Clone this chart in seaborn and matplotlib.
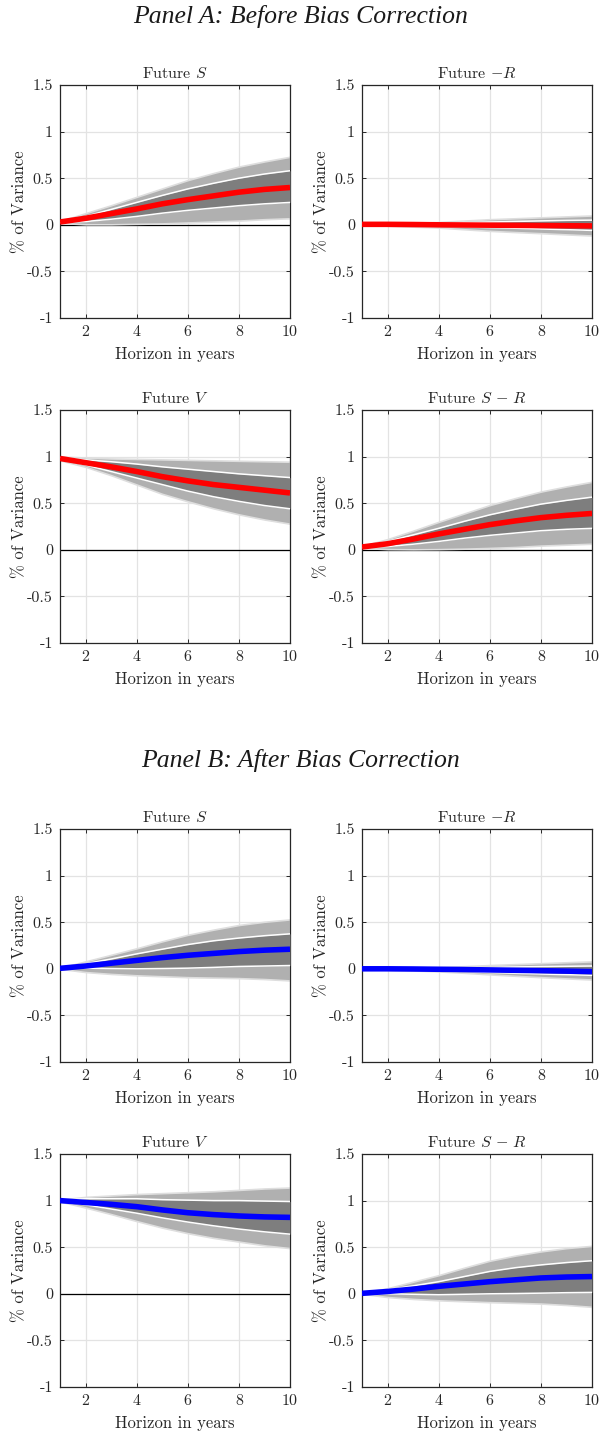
import numpy as np
import pandas as pd
import matplotlib
matplotlib.use("Agg")
import matplotlib.pyplot as plt
import seaborn as sns

sns.set_style("ticks")
plt.rcParams["font.family"] = "serif"
plt.rcParams["font.serif"] = ["cmr10", "DejaVu Serif"]
plt.rcParams["mathtext.fontset"] = "cm"
plt.rcParams["axes.unicode_minus"] = False
plt.rcParams["axes.formatter.use_mathtext"] = True

horizon = [1, 2, 3, 4, 5, 6, 7, 8, 9, 10]
x_ticks = [2, 4, 6, 8, 10]
y_ticks = [-1, -0.5, 0, 0.5, 1, 1.5]
y_ticklabels = ["-1", "-0.5", "0", "0.5", "1", "1.5"]
panel_titles = ["Panel A: Before Bias Correction", "Panel B: After Bias Correction"]
sub_titles = ["Future $S$", "Future $-R$", "Future $V$", "Future $S$ $-$ $R$"]
line_colors = ["#ff0000", "#0000ff"]

# Panel A: Future S
A_S_med = [0.03, 0.07, 0.12, 0.17, 0.225, 0.27, 0.31, 0.35, 0.38, 0.40]
A_S_hi90 = [0.04, 0.125, 0.21, 0.30, 0.39, 0.48, 0.555, 0.625, 0.68, 0.73]
A_S_hi68 = [0.035, 0.09, 0.165, 0.24, 0.315, 0.385, 0.445, 0.50, 0.545, 0.58]
A_S_lo68 = [0.025, 0.035, 0.06, 0.09, 0.125, 0.155, 0.18, 0.205, 0.225, 0.24]
A_S_lo90 = [0.02, 0.005, 0.005, 0.01, 0.015, 0.025, 0.035, 0.045, 0.06, 0.07]
# Panel A: Future -R
A_R_med = [0.005, 0.005, 0.003, 0.0, -0.002, -0.004, -0.006, -0.008, -0.01, -0.012]
A_R_hi90 = [0.005, 0.01, 0.02, 0.03, 0.045, 0.06, 0.07, 0.08, 0.09, 0.10]
A_R_hi68 = [0.005, 0.007, 0.012, 0.018, 0.024, 0.03, 0.036, 0.042, 0.047, 0.05]
A_R_lo68 = [0.005, 0.0, -0.008, -0.015, -0.022, -0.03, -0.037, -0.045, -0.052, -0.06]
A_R_lo90 = [0.005, -0.01, -0.02, -0.03, -0.048, -0.065, -0.078, -0.09, -0.103, -0.115]
# Panel A: Future V
A_V_med = [0.98, 0.935, 0.89, 0.84, 0.785, 0.74, 0.70, 0.67, 0.64, 0.61]
A_V_hi90 = [1.0, 0.99, 0.98, 0.975, 0.97, 0.965, 0.96, 0.955, 0.95, 0.945]
A_V_hi68 = [0.99, 0.965, 0.945, 0.92, 0.89, 0.865, 0.84, 0.815, 0.795, 0.775]
A_V_lo68 = [0.97, 0.91, 0.84, 0.77, 0.70, 0.63, 0.57, 0.52, 0.475, 0.44]
A_V_lo90 = [0.96, 0.89, 0.80, 0.70, 0.60, 0.52, 0.445, 0.38, 0.325, 0.28]
# Panel A: Future S-R
A_SR_med = [0.03, 0.065, 0.115, 0.17, 0.22, 0.27, 0.31, 0.345, 0.37, 0.39]
A_SR_hi90 = [0.04, 0.115, 0.205, 0.30, 0.39, 0.48, 0.555, 0.625, 0.68, 0.73]
A_SR_hi68 = [0.035, 0.09, 0.16, 0.23, 0.305, 0.375, 0.435, 0.49, 0.53, 0.565]
A_SR_lo68 = [0.025, 0.035, 0.06, 0.09, 0.125, 0.155, 0.18, 0.205, 0.22, 0.23]
A_SR_lo90 = [0.02, 0.007, 0.005, 0.007, 0.012, 0.02, 0.03, 0.045, 0.055, 0.065]

# Panel B: Future S
B_S_med = [0.005, 0.03, 0.06, 0.09, 0.12, 0.145, 0.165, 0.185, 0.20, 0.21]
B_S_hi90 = [0.01, 0.08, 0.15, 0.22, 0.295, 0.365, 0.42, 0.47, 0.505, 0.53]
B_S_hi68 = [0.008, 0.055, 0.105, 0.16, 0.21, 0.26, 0.30, 0.33, 0.355, 0.375]
B_S_lo68 = [0.003, 0.007, 0.003, 0.0, 0.003, 0.007, 0.015, 0.025, 0.03, 0.035]
B_S_lo90 = [0.0, -0.035, -0.055, -0.07, -0.08, -0.09, -0.095, -0.10, -0.11, -0.125]
# Panel B: Future -R
B_R_med = [0.0, 0.0, -0.002, -0.005, -0.008, -0.012, -0.016, -0.02, -0.025, -0.03]
B_R_hi90 = [0.003, 0.008, 0.012, 0.018, 0.028, 0.04, 0.05, 0.06, 0.07, 0.08]
B_R_hi68 = [0.002, 0.004, 0.006, 0.008, 0.012, 0.015, 0.02, 0.024, 0.027, 0.03]
B_R_lo68 = [-0.002, -0.006, -0.012, -0.018, -0.028, -0.04, -0.048, -0.056, -0.063, -0.07]
B_R_lo90 = [-0.003, -0.01, -0.018, -0.028, -0.043, -0.06, -0.075, -0.09, -0.103, -0.115]
# Panel B: Future V
B_V_med = [1.0, 0.98, 0.96, 0.935, 0.90, 0.87, 0.85, 0.835, 0.825, 0.82]
B_V_hi90 = [1.01, 1.04, 1.055, 1.07, 1.08, 1.09, 1.10, 1.115, 1.13, 1.14]
B_V_hi68 = [1.005, 1.02, 1.02, 1.02, 1.01, 1.005, 1.0, 1.0, 0.995, 0.99]
B_V_lo68 = [0.995, 0.955, 0.91, 0.865, 0.815, 0.77, 0.73, 0.695, 0.665, 0.64]
B_V_lo90 = [0.99, 0.925, 0.855, 0.78, 0.71, 0.65, 0.60, 0.56, 0.52, 0.49]
# Panel B: Future S-R
B_SR_med = [0.005, 0.025, 0.05, 0.08, 0.105, 0.13, 0.15, 0.17, 0.18, 0.185]
B_SR_hi90 = [0.01, 0.06, 0.13, 0.20, 0.28, 0.355, 0.41, 0.455, 0.49, 0.515]
B_SR_hi68 = [0.008, 0.045, 0.085, 0.13, 0.185, 0.24, 0.28, 0.31, 0.335, 0.355]
B_SR_lo68 = [0.002, 0.0, -0.005, -0.01, -0.005, 0.0, 0.003, 0.007, 0.012, 0.015]
B_SR_lo90 = [0.0, -0.035, -0.055, -0.07, -0.08, -0.09, -0.097, -0.105, -0.12, -0.14]

panels = [
    [(A_S_med, A_S_lo90, A_S_lo68, A_S_hi68, A_S_hi90),
     (A_R_med, A_R_lo90, A_R_lo68, A_R_hi68, A_R_hi90),
     (A_V_med, A_V_lo90, A_V_lo68, A_V_hi68, A_V_hi90),
     (A_SR_med, A_SR_lo90, A_SR_lo68, A_SR_hi68, A_SR_hi90)],
    [(B_S_med, B_S_lo90, B_S_lo68, B_S_hi68, B_S_hi90),
     (B_R_med, B_R_lo90, B_R_lo68, B_R_hi68, B_R_hi90),
     (B_V_med, B_V_lo90, B_V_lo68, B_V_hi68, B_V_hi90),
     (B_SR_med, B_SR_lo90, B_SR_lo68, B_SR_hi68, B_SR_hi90)],
]

W, H = 601, 1435
fig = plt.figure(figsize=(W / 100, H / 100), dpi=100)

col_left = [60, 362]
ax_w = 230
row_tops = [[85, 410], [829, 1154]]
ax_h = 233
panel_title_y = [16, 760]

for p in range(2):
    fig.text(0.5, 1 - panel_title_y[p] / H, panel_titles[p], ha="center", va="center",
             fontsize=18.5, family=["Liberation Serif", "DejaVu Serif"], style="italic",
             color="#1a1a1a")
    for k in range(4):
        r, c = divmod(k, 2)
        top = row_tops[p][r]
        left = col_left[c]
        ax = fig.add_axes([left / W, 1 - (top + ax_h) / H, ax_w / W, ax_h / H])
        med, lo90, lo68, hi68, hi90 = panels[p][k]
        df = pd.DataFrame({"h": horizon, "med": med, "lo90": lo90, "lo68": lo68,
                           "hi68": hi68, "hi90": hi90})
        ax.grid(True, color="#e3e3e3", lw=0.9)
        ax.set_axisbelow(True)
        ax.axhline(0, color="black", lw=0.9, zorder=1)
        ax.fill_between(df["h"], df["lo90"], df["hi90"], color="#b0b0b0", lw=1.2,
                        edgecolor="#dedede", zorder=2)
        ax.fill_between(df["h"], df["lo68"], df["hi68"], color="#7e7e7e", lw=0, zorder=3)
        sns.lineplot(data=df, x="h", y="hi68", ax=ax, color="white", lw=1.1, zorder=4)
        sns.lineplot(data=df, x="h", y="lo68", ax=ax, color="white", lw=1.1, zorder=4)
        sns.lineplot(data=df, x="h", y="med", ax=ax, color=line_colors[p], lw=4,
                     zorder=5, solid_capstyle="butt")
        ax.set_xlim(1, 10)
        ax.set_ylim(-1, 1.5)
        ax.set_xticks(x_ticks)
        ax.set_xticklabels([str(t) for t in x_ticks])
        ax.set_yticks(y_ticks)
        ax.set_yticklabels(y_ticklabels)
        ax.tick_params(direction="in", top=True, right=True, length=3, width=0.7,
                       labelsize=11.5, color="#262626", labelcolor="#262626", pad=5)
        for s in ax.spines.values():
            s.set_color("#262626")
            s.set_linewidth(0.9)
        ax.set_xlabel("Horizon in years", fontsize=12, color="#262626", labelpad=6)
        ax.set_ylabel("% of Variance", fontsize=12, color="#262626", labelpad=0)
        ax.set_title(sub_titles[k], fontsize=11.5, pad=5)

fig.savefig("out.png", dpi=100)
